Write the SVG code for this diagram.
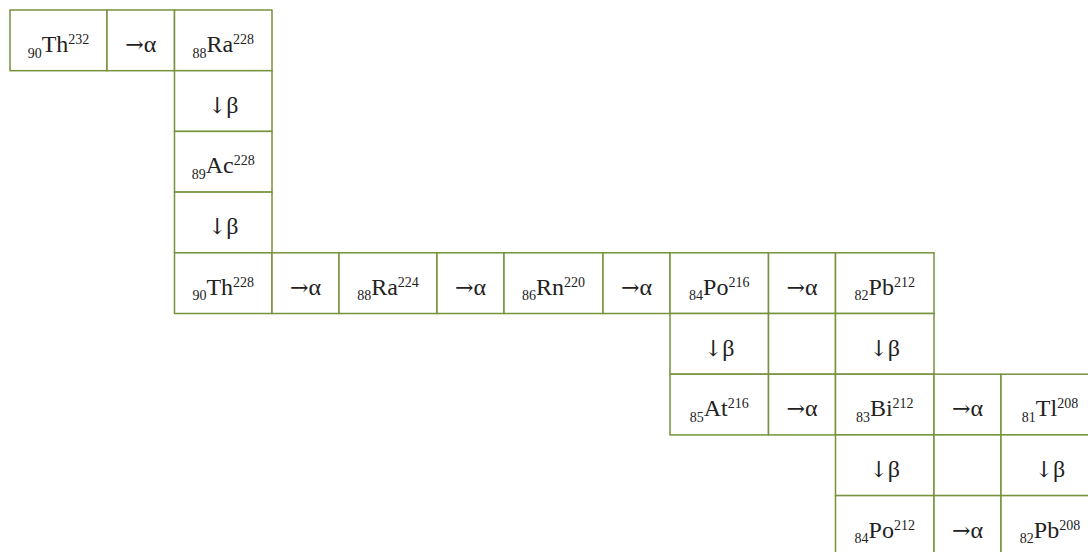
<svg xmlns="http://www.w3.org/2000/svg" width="1088" height="552" viewBox="0 0 1088 552">
  <style>
    .cell { fill: #ffffff; stroke: #76923c; stroke-width: 1.5; }
    .lbl { font-family: 'Liberation Serif', 'DejaVu Serif', serif; font-size: 24px; fill: #222222; text-anchor: middle; }
    .sm { font-size: 14px; }
    .arr { font-family: 'DejaVu Serif', serif; font-size: 22px; }
  </style>
  <rect width="1088" height="552" fill="#ffffff"/>

  <!-- Thorium decay series laid out as a staircase of table cells -->
  <g id="row0">
    <g id="th232"><rect class="cell" x="10" y="10" width="97" height="60.7"/>
      <text class="lbl" x="58.5" y="52"><tspan class="sm" dy="5.5">90</tspan><tspan dy="-5.5">Th</tspan><tspan class="sm" dy="-8">232</tspan></text></g>
    <g id="a1"><rect class="cell" x="107" y="10" width="67.5" height="60.7"/>
      <text class="lbl" x="140.75" y="52"><tspan class="arr">→</tspan>α</text></g>
    <g id="ra228"><rect class="cell" x="174.5" y="10" width="97.5" height="60.7"/>
      <text class="lbl" x="223.25" y="52"><tspan class="sm" dy="5.5">88</tspan><tspan dy="-5.5">Ra</tspan><tspan class="sm" dy="-8">228</tspan></text></g>
  </g>

  <g id="row1">
    <g id="b1"><rect class="cell" x="174.5" y="70.7" width="97.5" height="60.7"/>
      <text class="lbl" x="223.25" y="112.7"><tspan class="arr">↓</tspan>β</text></g>
  </g>

  <g id="row2">
    <g id="ac228"><rect class="cell" x="174.5" y="131.4" width="97.5" height="60.7"/>
      <text class="lbl" x="223.25" y="173.4"><tspan class="sm" dy="5.5">89</tspan><tspan dy="-5.5">Ac</tspan><tspan class="sm" dy="-8">228</tspan></text></g>
  </g>

  <g id="row3">
    <g id="b2"><rect class="cell" x="174.5" y="192.1" width="97.5" height="60.7"/>
      <text class="lbl" x="223.25" y="234.1"><tspan class="arr">↓</tspan>β</text></g>
  </g>

  <g id="row4">
    <g id="th228"><rect class="cell" x="174.5" y="252.8" width="97.5" height="60.7"/>
      <text class="lbl" x="223.25" y="294.8"><tspan class="sm" dy="5.5">90</tspan><tspan dy="-5.5">Th</tspan><tspan class="sm" dy="-8">228</tspan></text></g>
    <g id="a2"><rect class="cell" x="272" y="252.8" width="67" height="60.7"/>
      <text class="lbl" x="305.5" y="294.8"><tspan class="arr">→</tspan>α</text></g>
    <g id="ra224"><rect class="cell" x="339" y="252.8" width="98" height="60.7"/>
      <text class="lbl" x="388" y="294.8"><tspan class="sm" dy="5.5">88</tspan><tspan dy="-5.5">Ra</tspan><tspan class="sm" dy="-8">224</tspan></text></g>
    <g id="a3"><rect class="cell" x="437" y="252.8" width="67" height="60.7"/>
      <text class="lbl" x="470.5" y="294.8"><tspan class="arr">→</tspan>α</text></g>
    <g id="rn220"><rect class="cell" x="504" y="252.8" width="99" height="60.7"/>
      <text class="lbl" x="553.5" y="294.8"><tspan class="sm" dy="5.5">86</tspan><tspan dy="-5.5">Rn</tspan><tspan class="sm" dy="-8">220</tspan></text></g>
    <g id="a4"><rect class="cell" x="603" y="252.8" width="67" height="60.7"/>
      <text class="lbl" x="636.5" y="294.8"><tspan class="arr">→</tspan>α</text></g>
    <g id="po216"><rect class="cell" x="670" y="252.8" width="98.5" height="60.7"/>
      <text class="lbl" x="719.25" y="294.8"><tspan class="sm" dy="5.5">84</tspan><tspan dy="-5.5">Po</tspan><tspan class="sm" dy="-8">216</tspan></text></g>
    <g id="a5"><rect class="cell" x="768.5" y="252.8" width="67" height="60.7"/>
      <text class="lbl" x="802" y="294.8"><tspan class="arr">→</tspan>α</text></g>
    <g id="pb212"><rect class="cell" x="835.5" y="252.8" width="98.5" height="60.7"/>
      <text class="lbl" x="884.75" y="294.8"><tspan class="sm" dy="5.5">82</tspan><tspan dy="-5.5">Pb</tspan><tspan class="sm" dy="-8">212</tspan></text></g>
  </g>

  <g id="row5">
    <g id="b3"><rect class="cell" x="670" y="313.5" width="98.5" height="60.7"/>
      <text class="lbl" x="719.25" y="355.5"><tspan class="arr">↓</tspan>β</text></g>
    <g id="gap1"><rect class="cell" x="768.5" y="313.5" width="67" height="60.7"/></g>
    <g id="b4"><rect class="cell" x="835.5" y="313.5" width="98.5" height="60.7"/>
      <text class="lbl" x="884.75" y="355.5"><tspan class="arr">↓</tspan>β</text></g>
  </g>

  <g id="row6">
    <g id="at216"><rect class="cell" x="670" y="374.2" width="98.5" height="60.7"/>
      <text class="lbl" x="719.25" y="416.2"><tspan class="sm" dy="5.5">85</tspan><tspan dy="-5.5">At</tspan><tspan class="sm" dy="-8">216</tspan></text></g>
    <g id="a6"><rect class="cell" x="768.5" y="374.2" width="67" height="60.7"/>
      <text class="lbl" x="802" y="416.2"><tspan class="arr">→</tspan>α</text></g>
    <g id="bi212"><rect class="cell" x="835.5" y="374.2" width="98.5" height="60.7"/>
      <text class="lbl" x="884.75" y="416.2"><tspan class="sm" dy="5.5">83</tspan><tspan dy="-5.5">Bi</tspan><tspan class="sm" dy="-8">212</tspan></text></g>
    <g id="a7"><rect class="cell" x="934" y="374.2" width="67" height="60.7"/>
      <text class="lbl" x="967.5" y="416.2"><tspan class="arr">→</tspan>α</text></g>
    <g id="tl208"><rect class="cell" x="1001" y="374.2" width="98" height="60.7"/>
      <text class="lbl" x="1050" y="416.2"><tspan class="sm" dy="5.5">81</tspan><tspan dy="-5.5">Tl</tspan><tspan class="sm" dy="-8">208</tspan></text></g>
  </g>

  <g id="row7">
    <g id="b5"><rect class="cell" x="835.5" y="434.9" width="98.5" height="60.7"/>
      <text class="lbl" x="884.75" y="476.9"><tspan class="arr">↓</tspan>β</text></g>
    <g id="gap2"><rect class="cell" x="934" y="434.9" width="67" height="60.7"/></g>
    <g id="b6"><rect class="cell" x="1001" y="434.9" width="98" height="60.7"/>
      <text class="lbl" x="1050" y="476.9"><tspan class="arr">↓</tspan>β</text></g>
  </g>

  <g id="row8">
    <g id="po212"><rect class="cell" x="835.5" y="495.6" width="98.5" height="60.7"/>
      <text class="lbl" x="884.75" y="537.6"><tspan class="sm" dy="5.5">84</tspan><tspan dy="-5.5">Po</tspan><tspan class="sm" dy="-8">212</tspan></text></g>
    <g id="a8"><rect class="cell" x="934" y="495.6" width="67" height="60.7"/>
      <text class="lbl" x="967.5" y="537.6"><tspan class="arr">→</tspan>α</text></g>
    <g id="pb208"><rect class="cell" x="1001" y="495.6" width="98" height="60.7"/>
      <text class="lbl" x="1050" y="537.6"><tspan class="sm" dy="5.5">82</tspan><tspan dy="-5.5">Pb</tspan><tspan class="sm" dy="-8">208</tspan></text></g>
  </g>
</svg>
